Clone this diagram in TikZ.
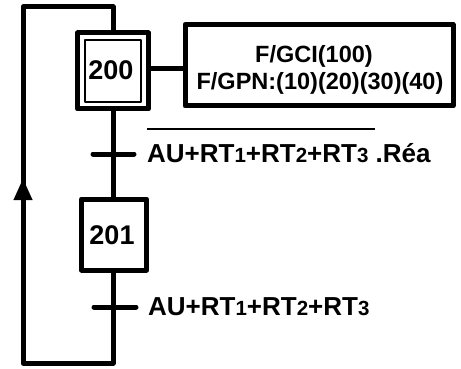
\documentclass[tikz,border=0pt]{standalone}
\usepackage{fontspec}
\setmainfont{Liberation Sans}
\usetikzlibrary{arrows.meta}
\newcommand{\dg}[1]{{\fontsize{20.5}{20.5}\selectfont #1}}
\begin{document}
\begin{tikzpicture}[x=1pt,y=-1pt,line join=round,
  wire/.style={line width=5pt},
  stepbox/.style={draw,line width=5pt,inner sep=0pt},
  innerbox/.style={draw,line width=2.7pt,inner sep=0pt},
  steptext/.style={font=\bfseries\fontsize{27}{30}\selectfont},
  acttext/.style={font=\bfseries\fontsize{23.5}{28}\selectfont,inner sep=0pt,anchor=base},
  trtext/.style={font=\bfseries\fontsize{26}{30}\selectfont,inner sep=0pt,anchor=base west},
  bar/.style={line width=5pt,line cap=round}]
\useasboundingbox (0,0) rectangle (461,369);
% step 200 (initial)
\node[stepbox,minimum width=71pt,minimum height=76pt] (s200) at (113,71) {};
\node[innerbox,minimum width=56pt,minimum height=62pt] (s200in) at (113,71) {};
\node[steptext,anchor=base] (n200) at (111,80) {200};
% action box
\node[stepbox,minimum width=268pt,minimum height=81.5pt] (act) at (319,65.25) {};
\node[acttext] (a1) at (314,63) {F/GCI(100)};
\node[acttext] (a2) at (320,90) {F/GPN:(10)(20)(30)(40)};
\draw[wire] (s200.east |- 0,69) -- (act.west |- 0,69);
% step 201
\node[stepbox,minimum width=65pt,minimum height=71pt] (s201) at (114,234.5) {};
\node[steptext,anchor=base] (n201) at (112,244) {201};
% transitions
\coordinate (t1l) at (93,154);
\coordinate (t1r) at (134,154);
\coordinate (t2l) at (94,307);
\coordinate (t2r) at (136,307);
\draw[wire] (s200.south) -- (s200.south |- s201.north);
\draw[bar] (t1l) -- (t1r);
\node[trtext] (l1) at (147,162) {AU+RT\dg{1}+RT\dg{2}+RT\dg{3} .Réa};
\coordinate (o1) at (147,129);
\coordinate (o2) at (375,129);
\draw[line width=2.5pt] (o1) -- (o2);
\draw[bar] (t2l) -- (t2r);
\node[trtext] (l2) at (148,315) {AU+RT\dg{1}+RT\dg{2}+RT\dg{3}};
% loop back
\coordinate (bl) at (23,363);
\coordinate (tl) at (23,7);
\coordinate (tm) at (113,7);
\draw[wire] (s200.south |- s201.south) |- (bl) -- (tl) -- (tm) -- (s200.north);
\coordinate (arrb) at (23,215);
\coordinate (arrt) at (23,179);
\draw[line width=0.1pt,-{Triangle[width=19pt,length=21pt]}] (arrb) -- (arrt);
\end{tikzpicture}
\end{document}
